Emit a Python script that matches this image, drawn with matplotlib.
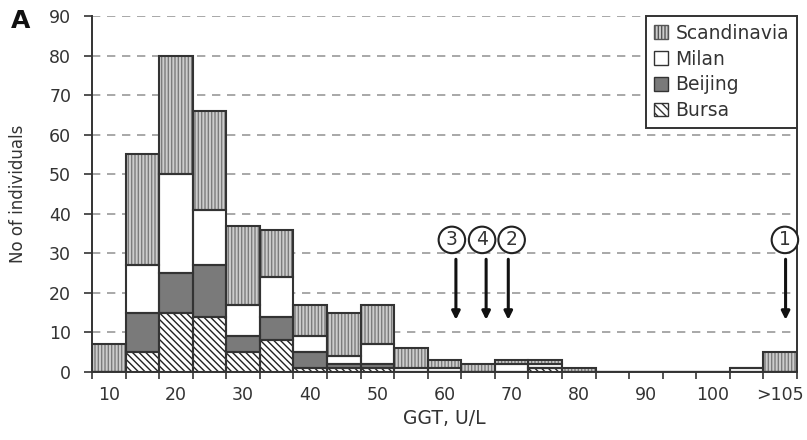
import matplotlib.pyplot as plt
from matplotlib.patches import Patch

plt.rcParams['font.family'] = ['DejaVu Sans']
plt.rcParams['hatch.linewidth'] = 1.0

# GGT bins (U/L), 5 units wide; last bin is ">105"
ggt = [10, 15, 20, 25, 30, 35, 40, 45, 50, 55, 60, 65, 70, 75, 80, 85, 90, 95, 100, 105, 110]
bursa = [0, 5, 15, 14, 5, 8, 1, 1, 1, 0, 0, 0, 0, 1, 0, 0, 0, 0, 0, 0, 0]
beijing = [0, 10, 10, 13, 4, 6, 4, 1, 1, 0, 0, 0, 0, 0, 0, 0, 0, 0, 0, 0, 0]
milan = [0, 12, 25, 14, 8, 10, 4, 2, 5, 1, 1, 0, 2, 1, 0, 0, 0, 0, 0, 1, 0]
scandinavia = [7, 28, 30, 25, 20, 12, 8, 11, 10, 5, 2, 2, 1, 1, 1, 0, 0, 0, 0, 0, 5]

tick_vals = [10, 20, 30, 40, 50, 60, 70, 80, 90, 100, 110]
tick_labels = ['10', '20', '30', '40', '50', '60', '70', '80', '90', '100', '>105']

# upper reference limits marked by arrows
ref_labels = ['3', '4', '2', '1']
circle_x = [61.1, 65.6, 70.0, 110.7]
arrow_x = [61.7, 66.2, 69.5, 110.8]

txt = '#333333'
edge = '#333333'
scand_face = '#cdcdcd'
scand_hatch = '#7c7c7c'

fig = plt.figure(figsize=(8.07, 4.40), dpi=100)
ax = fig.add_axes([0.114, 0.1545, 0.8736, 0.8091])

w = 5
b1 = bursa
b2 = [a + b for a, b in zip(b1, beijing)]
b3 = [a + b for a, b in zip(b2, milan)]

# fills / hatches first, then outlines on top
ax.bar(ggt, bursa, width=w, color='white', hatch='\\\\\\\\\\', edgecolor='#222222', linewidth=0)
ax.bar(ggt, beijing, width=w, bottom=b1, color='#7a7a7a', linewidth=0)
ax.bar(ggt, milan, width=w, bottom=b2, color='white', linewidth=0)
ax.bar(ggt, scandinavia, width=w, bottom=b3, color=scand_face, hatch='|||||', edgecolor=scand_hatch, linewidth=0)
for vals, bot in [(bursa, None), (beijing, b1), (milan, b2), (scandinavia, b3)]:
    ax.bar(ggt, vals, width=w, bottom=bot, facecolor='none', edgecolor=edge, linewidth=1.5)

ax.set_xlim(7.5, 112.5)
ax.set_ylim(0, 90)
ax.set_yticks(range(0, 91, 10))
ax.set_xticks([v - 2.5 for v in ggt] + [112.5])
ax.set_xticklabels([])
ax.set_xticks(tick_vals, minor=True)
ax.set_xticklabels(tick_labels, minor=True)
ax.tick_params(axis='x', which='major', length=5, width=1.2, color=edge)
ax.tick_params(axis='x', which='minor', length=0, pad=10, labelsize=12.5, labelcolor=txt)
ax.tick_params(axis='y', length=6, width=1.2, color=edge, labelsize=12.5, labelcolor=txt, pad=9)

ax.set_axisbelow(True)
ax.yaxis.grid(True, linestyle=(0, (5, 4)), color='#9a9a9a', linewidth=1.2)
ax.spines['top'].set_visible(False)
for s in ['left', 'bottom', 'right']:
    ax.spines[s].set_color(edge)
    ax.spines[s].set_linewidth(1.4)

ax.set_xlabel('GGT, U/L', fontsize=13.5, color=txt, labelpad=4)
ax.set_ylabel('No of individuals', fontsize=12, color=txt, labelpad=16)

for lab, cx, axx in zip(ref_labels, circle_x, arrow_x):
    ax.annotate('', xy=(axx, 12.5), xytext=(axx, 29.2),
                arrowprops=dict(arrowstyle='-|>', lw=2.2, color='#111111', mutation_scale=12))
    ax.text(cx, 33.4, lab, ha='center', va='center', fontsize=13.5, color=txt,
            bbox=dict(boxstyle='circle,pad=0.2', facecolor='white', edgecolor='#222222', linewidth=1.5))

handles = [
    Patch(facecolor=scand_face, hatch='|||||', edgecolor='#555555', label='Scandinavia'),
    Patch(facecolor='white', edgecolor=edge, label='Milan'),
    Patch(facecolor='#7a7a7a', edgecolor=edge, label='Beijing'),
    Patch(facecolor='white', hatch='\\\\\\\\', edgecolor=edge, label='Bursa'),
]
leg = ax.legend(handles=handles, loc='upper right', borderaxespad=0, fancybox=False,
                fontsize=13.5, handlelength=0.75, handleheight=0.75, handletextpad=0.4,
                labelspacing=0.36, borderpad=0.42, framealpha=1)
leg.get_frame().set_edgecolor(edge)
leg.get_frame().set_linewidth(1.4)
for t in leg.get_texts():
    t.set_color(txt)

fig.text(0.014, 0.937, 'A', fontsize=18, fontweight='bold', color='#111111')

fig.savefig('out.png', dpi=100)
